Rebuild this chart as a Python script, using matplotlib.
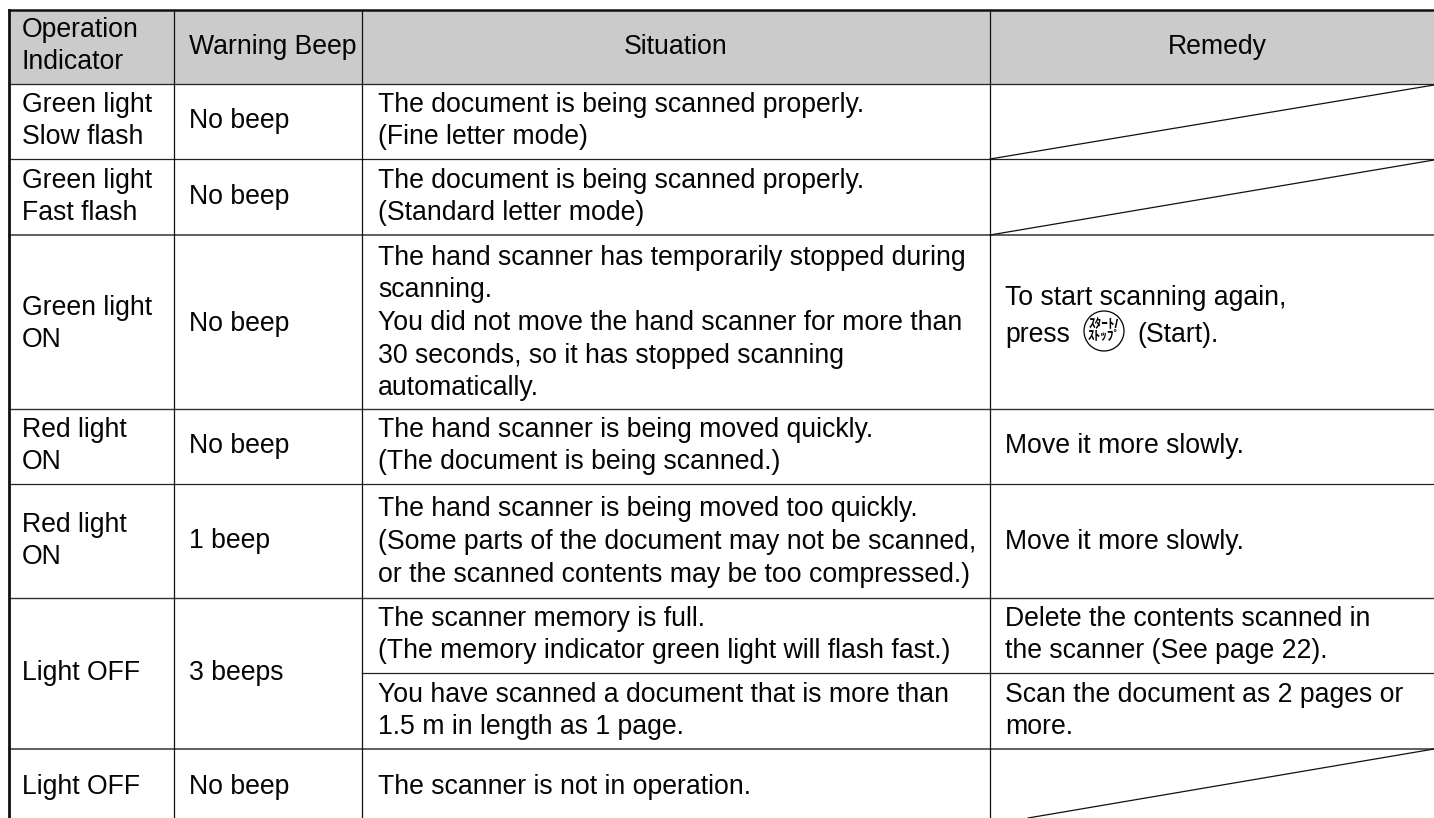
import matplotlib
matplotlib.use("Agg")
import matplotlib.pyplot as plt
from matplotlib.patches import Rectangle, Circle

W, H = 1434, 818
FONT = ['Liberation Sans', 'Noto Sans CJK JP', 'DejaVu Sans']
FS = 19.2

col_x = [8.7, 173.7, 362.3, 990.2, 1434]
top_y = 9.5
full_rows = [(83.7, '#222222', 0.9), (159.3, '#222222', 0.9), (235, '#444444', 1.2),
             (408.7, '#333333', 1.0), (484, '#222222', 0.9), (598, '#333333', 1.0),
             (749, '#444444', 1.2)]
partial_row = 673

headers = [("Operation\nIndicator", 22, 44, 'left'),
           ("Warning Beep", 189, 45, 'left'),
           ("Situation", 676, 45, 'center'),
           ("Remedy", 1217, 45, 'center')]

col1 = [("Green light\nSlow flash", 119), ("Green light\nFast flash", 195),
        ("Green light\nON", 322), ("Red light\nON", 444), ("Red light\nON", 539),
        ("Light OFF", 671), ("Light OFF", 785)]
col2 = [("No beep", 119), ("No beep", 195), ("No beep", 322), ("No beep", 444),
        ("1 beep", 539), ("3 beeps", 671), ("No beep", 785)]
situation = [
    ("The document is being scanned properly.\n(Fine letter mode)", 119),
    ("The document is being scanned properly.\n(Standard letter mode)", 195),
    ("The hand scanner has temporarily stopped during\nscanning.\nYou did not move the hand scanner for more than\n30 seconds, so it has stopped scanning\nautomatically.", 321),
    ("The hand scanner is being moved quickly.\n(The document is being scanned.)", 444),
    ("The hand scanner is being moved too quickly.\n(Some parts of the document may not be scanned,\nor the scanned contents may be too compressed.)", 540),
    ("The scanner memory is full.\n(The memory indicator green light will flash fast.)", 633),
    ("You have scanned a document that is more than\n1.5 m in length as 1 page.", 709),
    ("The scanner is not in operation.", 785),
]
remedy = [
    ("To start scanning again,", 296),
    ("Move it more slowly.", 444),
    ("Move it more slowly.", 540),
    ("Delete the contents scanned in\nthe scanner (See page 22).", 633),
    ("Scan the document as 2 pages or\nmore.", 709),
]
press_parts = [("press", 1005, 333), ("(Start).", 1137, 333)]
button_lines = "ｽﾀｰﾄ/\nｽﾄｯﾌﾟ"
diagonals = [(990, 159, 1434, 85), (990, 235, 1434, 160), (1028, 818, 1434, 749)]

fig = plt.figure(figsize=(W / 100, H / 100), dpi=100)
ax = fig.add_axes([0, 0, 1, 1])
ax.set_xlim(0, W)
ax.set_ylim(H, 0)
ax.axis('off')

ax.add_patch(Rectangle((col_x[0], top_y), W - col_x[0], full_rows[0][0] - top_y,
                       fc='#cbcbcb', ec='none', zorder=0))

def t(x, y, s, ha='left'):
    ax.text(x, y + 2, s, ha=ha, va='center', fontsize=FS, family=FONT, color='#050505',
            linespacing=1.33, zorder=3)

for s, x, y, ha in headers:
    t(x, y, s, ha)
for s, y in col1:
    t(22, y, s)
for s, y in col2:
    t(189, y, s)
for s, y in situation:
    t(378, y, s)
for s, y in remedy:
    t(1005, y, s)
for s, x, y in press_parts:
    t(x, y, s)

ax.add_patch(Circle((1104, 331), 20, fc='white', ec='black', lw=0.9, zorder=3))
ax.text(1104, 331, button_lines, ha='center', va='center', fontsize=9.5, family=FONT,
        fontweight='bold', linespacing=0.9, zorder=4)

for y, c, lw in full_rows:
    ax.plot([col_x[0], W], [y, y], color=c, lw=lw, zorder=2)
ax.plot([col_x[2], W], [partial_row, partial_row], color='#222222', lw=0.9, zorder=2)
ax.plot([col_x[0], W], [top_y, top_y], color='#111111', lw=1.8, zorder=2)
ax.plot([col_x[0], col_x[0]], [top_y, H], color='#111111', lw=2.0, zorder=2)
for x in col_x[1:4]:
    ax.plot([x, x], [top_y, H], color='#111111', lw=0.9, zorder=2)
for x0, y0, x1, y1 in diagonals:
    ax.plot([x0, x1], [y0, y1], color='#111111', lw=0.9, zorder=2)

fig.savefig('out.png', dpi=100, facecolor='white')
